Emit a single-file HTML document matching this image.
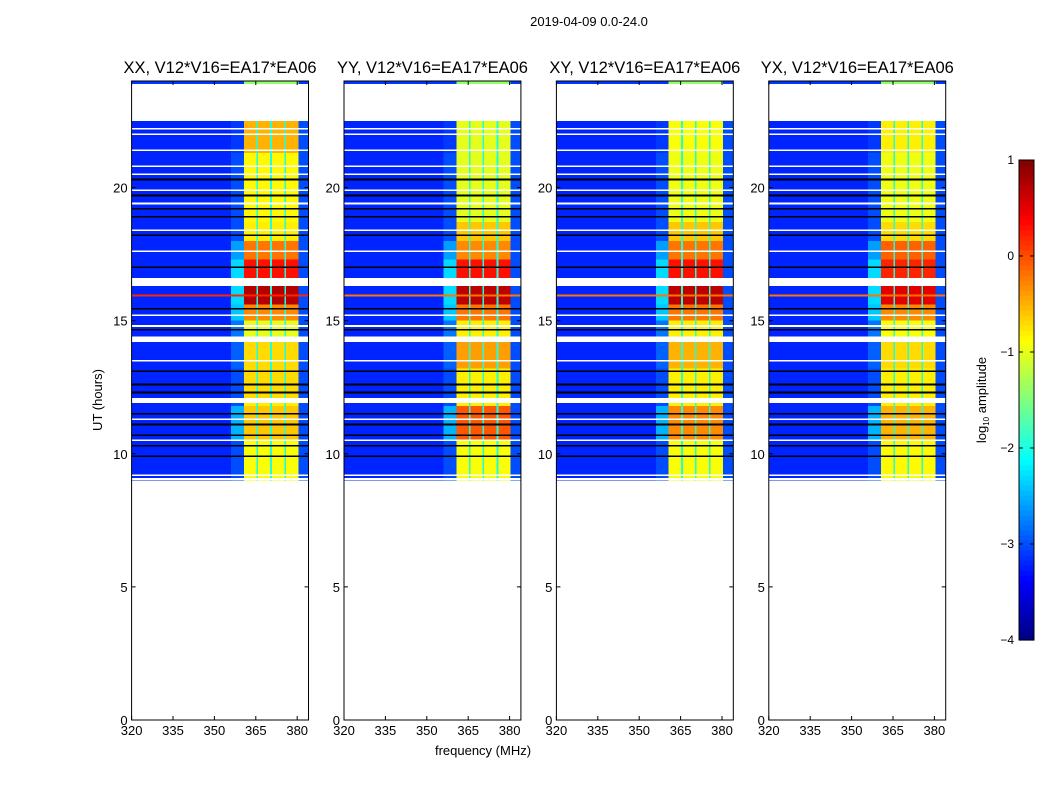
<!DOCTYPE html>
<html><head><meta charset="utf-8"><style>
body{margin:0;background:#fff;}
svg{display:block;font-family:"Liberation Sans","DejaVu Sans",sans-serif;}
</style></head><body>
<svg id="chart" width="1050" height="800" viewBox="0 0 1050 800" xmlns="http://www.w3.org/2000/svg">
<rect width="1050" height="800" fill="#fff"/>
<text x="589" y="26" font-size="13" text-anchor="middle">2019-04-09 0.0-24.0</text>
<text x="483" y="755" font-size="13" text-anchor="middle">frequency (MHz)</text>
<text x="0" y="0" font-size="13" text-anchor="middle" transform="translate(102,400) rotate(-90)">UT (hours)</text>
<g id="panels"></g>
<g id="cbar"></g>
</svg>
<script>
// ---- data ----
const panelTitles = ["XX, V12*V16=EA17*EA06","YY, V12*V16=EA17*EA06","XY, V12*V16=EA17*EA06","YX, V12*V16=EA17*EA06"];
const xTicks = [320,335,350,365,380];
const yTicks = [0,5,10,15,20];
const cbTicks = [-4,-3,-2,-1,0,1];
// time segments (hours)
const segStart = [9.0,10.5,11.8,12.1,13.2,14.4,15.0,15.6,16.3,16.6,17.3,18.0,18.7,21.3];
const segEnd   = [10.5,11.8,12.1,13.2,14.2,15.0,15.6,16.3,16.6,17.3,18.0,18.7,21.3,22.5];
// band (360.7-380.4 MHz) log10 amplitude per segment, per panel
const bandXX = [-0.9,-0.6,-0.8,-0.7,-0.7,-1.0,-0.3,0.75,null,0.3,-0.2,-0.8,-0.85,-0.5];
const bandYY = [-0.9,-0.05,-0.8,-0.8,-0.4,-0.8,-0.2,0.7,null,0.3,-0.3,-0.6,-1.0,-1.0];
const bandXY = [-0.9,-0.3,-0.8,-0.8,-0.5,-0.8,-0.2,0.7,null,0.3,-0.2,-0.6,-0.95,-0.9];
const bandYX = [-0.85,-0.5,-0.8,-0.8,-0.7,-0.9,-0.3,0.5,null,0.2,-0.1,-0.7,-0.95,-0.8];
// ramp region (356-360.7 MHz) level per segment
const rampLvl = [-3.0,-2.5,-3.0,-3.0,-2.9,-2.8,-2.4,-2.3,null,-2.3,-2.6,-3.0,-3.0,-3.1];
const lowLvl = -3.2;
const highLvl = -3.0;
// flagged rows (white) and low rows (black), in hours
const whiteLines = [22.2,22.0,21.4,20.8,20.5,19.9,19.4,18.4,17.6,15.2,14.8,13.5,11.3,10.5,9.2,9.05];
const blackLines = [20.3,19.7,19.2,18.9,18.2,17.0,15.45,14.65,13.1,12.6,12.3,11.5,11.1,10.7,10.3,9.9];
const wideWhite = [[16.3,16.6],[14.2,14.4],[11.9,12.1]];
const redLineT = 15.95;
const blockEdges = [360.7,365.5,370.5,375.6,380.4];
// ---- helpers ----
function jet(v){ // v in [-4,1]
  let x=(v+4)/5; x=Math.max(0,Math.min(1,x));
  const r=Math.max(0,Math.min(1,1.5-Math.abs(4*x-3)));
  const g=Math.max(0,Math.min(1,1.5-Math.abs(4*x-2)));
  const b=Math.max(0,Math.min(1,1.5-Math.abs(4*x-1)));
  return `rgb(${Math.round(r*255)},${Math.round(g*255)},${Math.round(b*255)})`;
}
const NS="http://www.w3.org/2000/svg";
function el(tag,attrs,parent){const e=document.createElementNS(NS,tag);for(const k in attrs)e.setAttribute(k,attrs[k]);parent.appendChild(e);return e;}
const panelLefts=[131.6,344,556.4,768.8];
const pxPerMHz=2.76, plotTop=81, plotBottom=720;
const rampStart=356;
const yOf=t=>plotBottom-t*(plotBottom-plotTop)/24;
const bands=[bandXX,bandYY,bandXY,bandYX];
const root=document.getElementById('panels');
panelTitles.forEach((title,p)=>{
  const L=panelLefts[p], xOf=f=>L+(f-320)*pxPerMHz, R=xOf(384.1);
  const g=el('g',{},root);
  
  
  const hm=el('g',{'shape-rendering':'crispEdges'},g);
  
  
  segStart.forEach((t0,i)=>{
    const bl=bands[p][i]; if(bl===null) return;
    const y0=yOf(segEnd[i]), h=yOf(t0)-y0;
    const r1=el('rect',{x:xOf(320),y:y0,width:xOf(rampStart)-xOf(320),height:h,fill:jet(lowLvl)},hm);
    
    
    const r2=el('rect',{x:xOf(rampStart),y:y0,width:xOf(blockEdges[0])-xOf(rampStart),height:h,fill:jet(rampLvl[i])},hm);
    
    
    const r3=el('rect',{x:xOf(blockEdges[0]),y:y0,width:xOf(blockEdges[4])-xOf(blockEdges[0]),height:h,fill:jet(bl)},hm);
    
    
    const r4=el('rect',{x:xOf(blockEdges[4]),y:y0,width:R-xOf(blockEdges[4]),height:h,fill:jet(highLvl)},hm);
    
    
    for(let k=1;k<4;k++){
      const gp=el('rect',{x:xOf(blockEdges[k])-0.8,y:y0,width:1.6,height:h,fill:jet(-2.0)},hm);
      
      
    }
  });
  const ts=el('rect',{x:L,y:yOf(24),width:R-L,height:yOf(23.88)-yOf(24),fill:jet(-3.1)},hm);
  
  
  const tb=el('rect',{x:xOf(blockEdges[0]),y:yOf(24),width:xOf(blockEdges[4])-xOf(blockEdges[0]),height:yOf(23.88)-yOf(24),fill:jet(-1.4)},hm);
  
  
  const rl=el('rect',{x:L,y:yOf(redLineT)-1,width:R-L,height:2,fill:jet(p==0?0.2:-0.2)},hm);
  
  
  whiteLines.forEach(t=>{const w=el('rect',{x:L,y:yOf(t)-0.8,width:R-L,height:1.6,fill:'#fff'},hm);
    
    });
  wideWhite.forEach(a=>{const w=el('rect',{x:L,y:yOf(a[1]),width:R-L,height:yOf(a[0])-yOf(a[1]),fill:'#fff'},hm);
    
    });
  blackLines.forEach(t=>{const w=el('rect',{x:L,y:yOf(t)-0.8,width:R-L,height:1.6,fill:'#000'},hm);
    
    });
  const fr=el('rect',{x:L,y:plotTop,width:R-L,height:plotBottom-plotTop,fill:'none',stroke:'#000','stroke-width':1},g);
  
  
  const tt=el('text',{x:(L+R)/2,y:73,'font-size':16.5,'text-anchor':'middle'},g); tt.textContent=title;
  
  
  xTicks.forEach(f=>{const x=xOf(f);
    el('line',{x1:x,x2:x,y1:plotBottom,y2:plotBottom-4,stroke:'#000'},g);
    el('line',{x1:x,x2:x,y1:plotTop,y2:plotTop+4,stroke:'#000'},g);
    const tx=el('text',{x:x,y:plotBottom+15,'font-size':13,'text-anchor':'middle'},g); tx.textContent=f;
    
    });
  yTicks.forEach(t=>{const y=yOf(t);
    el('line',{x1:L,x2:L+4,y1:y,y2:y,stroke:'#000'},g);
    el('line',{x1:R,x2:R-4,y1:y,y2:y,stroke:'#000'},g);
    const tx=el('text',{x:L-4,y:y+5,'font-size':13,'text-anchor':'end'},g); tx.textContent=t;
    
    });
});
const cb=document.getElementById('cbar');
const cbTop=160,cbBot=640,cbX=1019,cbW=15;
const cbY=v=>cbBot-(v+4)/5*(cbBot-cbTop);
for(let i=0;i<96;i++){const v=-4+i*5/96;
  el('rect',{x:cbX,y:cbY(v+5/96),width:cbW,height:(cbBot-cbTop)/96+0.6,fill:jet(v+2.5/96)},cb);}
el('rect',{x:cbX,y:cbTop,width:cbW,height:cbBot-cbTop,fill:'none',stroke:'#000'},cb);
cbTicks.forEach(v=>{const y=cbY(v);
  el('line',{x1:cbX,x2:cbX+4,y1:y,y2:y,stroke:'#000'},cb);
  el('line',{x1:cbX+cbW,x2:cbX+cbW-4,y1:y,y2:y,stroke:'#000'},cb);
  const t=el('text',{x:1014,y:y+4,'font-size':12,'text-anchor':'end'},cb); t.textContent=(v<0?'\u2212'+(-v):v);
  
  });
const cl=el('text',{x:0,y:0,'font-size':13,'text-anchor':'middle',transform:'translate(986,400) rotate(-90)'},cb);
cl.innerHTML='log<tspan font-size="8" dy="3">10</tspan><tspan dy="-3"> amplitude</tspan>';


</script>
</body></html>
